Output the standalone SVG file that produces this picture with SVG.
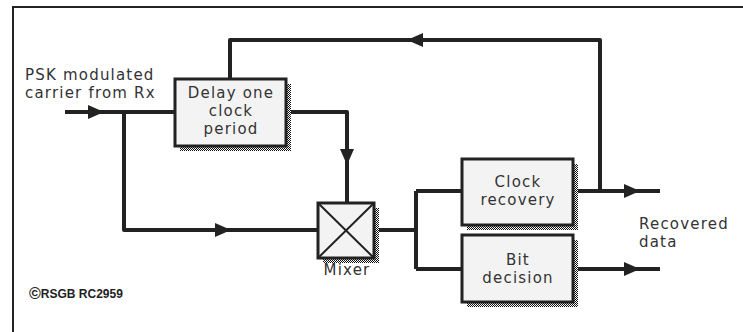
<svg xmlns="http://www.w3.org/2000/svg" width="743" height="332" viewBox="0 0 743 332">
<style>
.frame{fill:none;stroke:#222;stroke-width:2}
.box{fill:#f3f3f3;stroke:#222;stroke-width:3}
.shadow{fill:url(#stip)}
.wire{fill:none;stroke:#222;stroke-width:4;stroke-linejoin:round}
.arr{fill:#222}
.lbl{font-family:"DejaVu Sans",Verdana,sans-serif;font-size:15px;letter-spacing:1.2px;fill:#333}
.c{text-anchor:middle}
.copy{font-family:"Liberation Sans",Arial,sans-serif;font-weight:bold;font-size:12px;fill:#222}
</style>
<defs>
<pattern id="stip" width="2" height="2" patternUnits="userSpaceOnUse">
<rect width="2" height="2" fill="#ffffff"/>
<rect x="0" y="0" width="1" height="1" fill="#111"/>
<rect x="1" y="1" width="1" height="1" fill="#111"/>
</pattern>
<path id="tri" d="M-8,-7 L8,0 L-8,7 Z"/>
</defs>
<rect width="743" height="332" fill="#fff"/>
<path class="frame" d="M13,332 V7 H743"/>

<g id="connectors">
<path class="wire" d="M65,112 H175"/>
<path class="wire" d="M124,112 V230 H318"/>
<path class="wire" d="M286,112 H347 V203"/>
<path class="wire" d="M230,79 V40 H600 V191"/>
<path class="wire" d="M374,230 H416"/>
<path class="wire" d="M416,191 V269"/>
<path class="wire" d="M416,191 H462"/>
<path class="wire" d="M416,269 H462"/>
<path class="wire" d="M573,191 H660"/>
<path class="wire" d="M573,269 H660"/>
<use href="#tri" class="arr" transform="translate(96,112)"/>
<use href="#tri" class="arr" transform="translate(223,230)"/>
<use href="#tri" class="arr" transform="translate(347,157) rotate(90)"/>
<use href="#tri" class="arr" transform="translate(415,40) rotate(180)"/>
<use href="#tri" class="arr" transform="translate(632,191)"/>
<use href="#tri" class="arr" transform="translate(632,269)"/>
</g>

<g id="input-label">
<text class="lbl" x="25" y="80">PSK modulated</text>
<text class="lbl" x="25" y="98">carrier from Rx</text>
</g>

<g id="delay">
<rect class="shadow" x="180" y="84" width="111" height="67"/>
<rect class="box" x="175" y="79" width="111" height="67"/>
<text class="lbl c" x="231" y="98">Delay one</text>
<text class="lbl c" x="231" y="116">clock</text>
<text class="lbl c" x="231" y="134">period</text>
</g>

<g id="mixer">
<rect class="shadow" x="323" y="208" width="56" height="55"/>
<rect class="box" x="318" y="203" width="56" height="55"/>
<path d="M318,203 L374,258 M374,203 L318,258" stroke="#222" stroke-width="2" fill="none"/>
<text class="lbl c" x="347" y="275">Mixer</text>
</g>

<g id="clock-recovery">
<rect class="shadow" x="467" y="164" width="111" height="66"/>
<rect class="box" x="462" y="159" width="111" height="66"/>
<text class="lbl c" x="518" y="187">Clock</text>
<text class="lbl c" x="518" y="205">recovery</text>
</g>

<g id="bit-decision">
<rect class="shadow" x="467" y="240" width="111" height="67"/>
<rect class="box" x="462" y="235" width="111" height="67"/>
<text class="lbl c" x="518" y="265">Bit</text>
<text class="lbl c" x="518" y="283">decision</text>
</g>

<g id="output-label">
<text class="lbl" x="639" y="229">Recovered</text>
<text class="lbl" x="639" y="247">data</text>
</g>

<g id="copyright">
<text class="copy" x="29" y="298"><tspan font-size="16" dy="1">©</tspan><tspan dy="-1">RSGB RC2959</tspan></text>
</g>
</svg>
